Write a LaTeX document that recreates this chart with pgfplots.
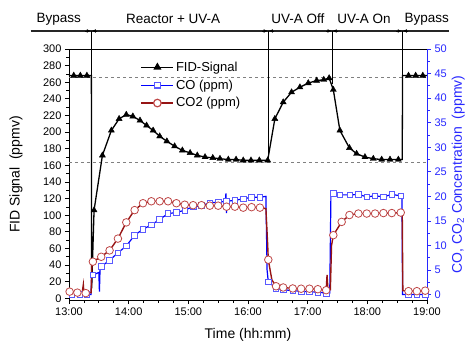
\documentclass[border=0pt]{standalone}
\usepackage{fontspec}
\setmainfont{Liberation Sans}
\usepackage{pgfplots}
\pgfplotsset{compat=1.18}
\usetikzlibrary{arrows.meta}
\definecolor{cob}{RGB}{0,0,255}
\definecolor{comark}{RGB}{90,90,255}
\definecolor{cor}{RGB}{150,20,20}
\definecolor{cormark}{RGB}{190,70,70}
\definecolor{rblue}{RGB}{40,40,255}
\begin{document}
\begin{tikzpicture}
\useasboundingbox (-69pt,-45pt) rectangle (404pt,300pt);
\begin{axis}[
 at={(0,0)}, anchor=south west,
 scale only axis, width=358pt, height=251pt,
 xmin=13, xmax=19, ymin=-2, ymax=300,
 xtick={13,...,19}, xticklabels={13:00,14:00,15:00,16:00,17:00,18:00,19:00},
 minor x tick num=3,
 ytick={0,20,...,300}, minor y tick num=1,
 xtick pos=left, ytick pos=left,
 tick align=outside,
 major tick length=4pt, minor tick length=2.5pt,
 tick style={black, line width=0.8pt},
 axis line style={line width=0.8pt},
 ticklabel style={font=\fontsize{11}{13}\selectfont},
 /pgf/number format/assume math mode=true,
 xlabel={Time (hh:mm)}, ylabel={FID Signal\ \ (ppmv)},
 label style={font=\fontsize{14}{16}\selectfont},
 xlabel style={at={(axis description cs:0.5,-0.139)},anchor=center},
 ylabel style={at={(axis description cs:-0.148,0.5)},anchor=center},
 clip=false,
]
% reference dashed lines
\draw[gray, line width=0.8pt, dash pattern=on 3pt off 3pt] (axis cs:13,266) -- (axis cs:19,266);
\draw[gray, line width=0.8pt, dash pattern=on 3pt off 3pt] (axis cs:13,164) -- (axis cs:19,164);
% top phase bar
\draw[line width=1.1pt, black!85] (axis cs:12.357,321.7) -- (axis cs:19.37,321.7);
\draw[line width=0.8pt] (axis cs:13.375,321.7) -- (axis cs:13.375,268);
\draw[line width=0.8pt] (axis cs:16.34,321.7) -- (axis cs:16.34,166);
\draw[line width=0.8pt] (axis cs:17.41,321.7) -- (axis cs:17.41,258);
\draw[line width=0.8pt] (axis cs:18.587,321.7) -- (axis cs:18.587,167);
\draw[-{Latex[length=4pt,width=3.5pt]}] (axis cs:13.275,321.7) -- (axis cs:13.365,321.7);
\draw[-{Latex[length=4pt,width=3.5pt]}] (axis cs:13.475,321.7) -- (axis cs:13.385,321.7);
\draw[-{Latex[length=4pt,width=3.5pt]}] (axis cs:16.24,321.7) -- (axis cs:16.33,321.7);
\draw[-{Latex[length=4pt,width=3.5pt]}] (axis cs:16.44,321.7) -- (axis cs:16.35,321.7);
\draw[-{Latex[length=4pt,width=3.5pt]}] (axis cs:17.31,321.7) -- (axis cs:17.40,321.7);
\draw[-{Latex[length=4pt,width=3.5pt]}] (axis cs:17.51,321.7) -- (axis cs:17.42,321.7);
\draw[-{Latex[length=4pt,width=3.5pt]}] (axis cs:18.487,321.7) -- (axis cs:18.577,321.7);
\draw[-{Latex[length=4pt,width=3.5pt]}] (axis cs:18.687,321.7) -- (axis cs:18.597,321.7);
\node[font=\fontsize{13.5}{15}\selectfont] at (axis cs:12.827,336) {Bypass};
\node[font=\fontsize{13.5}{15}\selectfont] at (axis cs:14.745,336) {Reactor + UV-A};
\node[font=\fontsize{13.5}{15}\selectfont] at (axis cs:16.834,336) {UV-A Off};
\node[font=\fontsize{13.5}{15}\selectfont] at (axis cs:17.945,336) {UV-A On};
\node[font=\fontsize{13.5}{15}\selectfont] at (axis cs:18.997,336) {Bypass};
% FID line
\addplot[black, line width=1.3pt, no marks] coordinates {
(13.00,268)(13.375,268)(13.38,12)(13.42,106)(13.56,172)(13.71,202)(13.84,216)(13.96,221)
(14.07,219)(14.19,214)(14.30,208)(14.41,202)(14.52,195)(14.64,189)(14.77,183)(14.90,178)
(15.03,175)(15.15,172)(15.28,170)(15.41,169)(15.53,168)(15.67,167)(15.80,167)(15.92,166)
(16.05,166)(16.19,166)(16.33,166)(16.45,216)(16.59,236)(16.73,248)(16.87,254)(17.01,259)
(17.15,262)(17.27,263)(17.36,265)(17.43,251)(17.54,202)(17.70,181)(17.82,174)(17.96,170)
(18.10,168)(18.24,167)(18.38,167)(18.52,167)(18.585,167)(18.59,268)(19.00,268)};
% FID markers
\addplot[only marks, black, mark=triangle*, mark size=3.5pt] coordinates {
(13.08,268)(13.19,268)(13.30,268)
(13.42,106)(13.56,172)(13.71,202)(13.84,216)(13.96,221)
(14.07,219)(14.19,214)(14.30,208)(14.41,202)(14.52,195)(14.64,189)(14.77,183)(14.90,178)
(15.03,175)(15.15,172)(15.28,170)(15.41,169)(15.53,168)(15.67,167)(15.80,167)(15.92,166)
(16.05,166)(16.19,166)(16.33,166)(16.45,216)(16.59,236)(16.73,248)(16.87,254)(17.01,259)
(17.15,262)(17.27,263)(17.36,265)(17.43,251)(17.54,202)(17.70,181)(17.82,174)(17.96,170)
(18.10,168)(18.24,167)(18.38,167)(18.52,167)
(18.69,268)(18.81,268)(18.93,268)};
\end{axis}

\begin{axis}[
 at={(0,0)}, anchor=south west,
 scale only axis, width=358pt, height=251pt,
 xmin=13, xmax=19, ymin=-1.1, ymax=50,
 axis x line=none, axis y line*=right,
 ytick={0,5,...,50}, minor y tick num=1,
 tick align=outside,
 major tick length=4pt, minor tick length=2.5pt,
 tick style={rblue, line width=0.8pt},
 y axis line style={rblue, line width=0.8pt},
 yticklabel style={rblue, font=\fontsize{11}{13}\selectfont},
 /pgf/number format/assume math mode=true,
 ylabel={CO, CO\textsubscript{2} Concentration\ \ (ppmv)},
 ylabel style={rblue, font=\fontsize{14}{16}\selectfont, at={(axis description cs:1.087,0.5)}, anchor=center},
 legend style={draw=none, fill=none, at={(axis description cs:0.2,0.958)}, anchor=north west,
   font=\fontsize{13}{15}\selectfont, row sep=3pt, inner sep=0pt},
 legend cell align=left,
 legend image code/.code={\draw[mark repeat=2,mark phase=2] plot coordinates {(0pt,0pt)(16pt,0pt)(32pt,0pt)};},
]
\addlegendimage{black, line width=1.2pt, mark=triangle*, mark size=3.5pt}
\addlegendentry{FID-Signal}
\addlegendimage{cob, line width=1.2pt, mark=square*, mark options={draw=comark, fill=white}, mark size=2.8pt}
\addlegendentry{CO (ppm)}
\addlegendimage{cor, line width=1.2pt, mark=*, mark options={draw=cormark, fill=white}, mark size=3.8pt}
\addlegendentry{CO2 (ppm)}
% CO line
\addplot[cob, line width=1.2pt, no marks, forget plot] coordinates {
(13.00,0.0)(13.37,0.0)(13.38,4.0)(13.40,4.0)(13.50,4.5)(13.51,0.6)(13.52,5.0)(13.54,5.7)
(13.68,7.0)(13.82,8.5)(13.96,9.9)(14.10,12.1)(14.24,13.3)(14.38,14.2)(14.52,15.3)(14.66,16.5)
(14.80,16.7)(14.94,17.2)(15.08,17.9)(15.22,18.1)(15.36,18.7)(15.50,18.8)(15.62,19.0)(15.63,20.6)(15.64,16.6)(15.65,19.0)
(15.78,19.2)(15.92,19.5)(16.06,19.8)(16.20,19.8)(16.30,20.0)(16.32,5.0)(16.34,2.6)(16.47,1.3)
(16.59,1.0)(16.75,0.8)(16.89,0.7)(17.03,0.6)(17.17,0.5)(17.31,0.3)(17.37,0.3)(17.39,20.6)
(17.43,20.6)(17.54,20.3)(17.71,20.3)(17.85,20.4)(17.99,19.9)(18.13,20.1)(18.27,19.9)(18.41,20.4)
(18.56,20.1)(18.58,20.0)(18.59,0.0)(19.00,0.0)};
\addplot[only marks, mark=square*, mark options={draw=comark, fill=white, line width=0.8pt}, mark size=2.8pt, forget plot] coordinates {
(13.05,0.0)(13.18,0.0)(13.30,0.0)
(13.40,4.0)(13.54,5.7)(13.68,7.0)(13.82,8.5)(13.96,9.9)(14.10,12.1)(14.24,13.3)(14.38,14.2)
(14.52,15.3)(14.66,16.5)(14.80,16.7)(14.94,17.2)(15.08,17.9)(15.22,18.1)(15.36,18.7)(15.50,18.8)
(15.64,19.0)(15.78,19.2)(15.92,19.5)(16.06,19.8)(16.20,19.8)(16.34,2.6)(16.47,1.3)
(16.59,1.0)(16.75,0.8)(16.89,0.7)(17.03,0.6)(17.17,0.5)(17.31,0.3)
(17.43,20.6)(17.54,20.3)(17.71,20.3)(17.85,20.4)(17.99,19.9)(18.13,20.1)(18.27,19.9)(18.41,20.4)(18.56,20.1)
(18.69,0.0)(18.83,0.0)(18.97,0.0)};
% CO2 line
\addplot[cor, line width=1.4pt, no marks, forget plot] coordinates {
(13.00,0.6)(13.13,0.4)(13.22,0.3)(13.24,2.0)(13.25,0.3)(13.28,0.3)(13.37,0.4)(13.385,6.5)
(13.40,6.7)(13.54,7.7)(13.68,9.0)(13.82,11.4)(13.96,14.7)(14.10,17.2)(14.24,18.6)(14.38,19.0)
(14.52,19.0)(14.66,19.0)(14.80,18.6)(14.94,18.3)(15.08,18.2)(15.22,18.2)(15.36,18.1)(15.50,18.1)
(15.64,17.9)(15.78,17.9)(15.92,17.7)(16.06,17.8)(16.20,17.7)(16.30,17.5)(16.33,10.0)(16.34,7.1)
(16.40,3.0)(16.47,1.7)(16.59,1.45)(16.75,1.25)(16.89,1.2)(17.03,1.2)(17.17,1.1)(17.31,0.9)
(17.325,4.0)(17.34,1.0)(17.38,1.0)(17.40,10.0)(17.43,12.1)(17.57,14.8)(17.70,16.2)(17.85,16.5)
(17.99,16.5)(18.13,16.5)(18.27,16.6)(18.41,16.6)(18.56,16.7)(18.585,16.7)(18.595,0.8)(18.69,0.7)
(18.83,0.7)(18.97,0.8)(19.00,0.8)};
\addplot[only marks, mark=*, mark options={draw=cormark, fill=white, line width=0.8pt}, mark size=3.8pt, forget plot] coordinates {
(13.01,0.6)(13.14,0.4)(13.28,0.3)
(13.40,6.7)(13.54,7.7)(13.68,9.0)(13.82,11.4)(13.96,14.7)(14.10,17.2)(14.24,18.6)(14.38,19.0)
(14.52,19.0)(14.66,19.0)(14.80,18.6)(14.94,18.3)(15.08,18.2)(15.22,18.2)(15.36,18.1)(15.50,18.1)
(15.64,17.9)(15.78,17.9)(15.92,17.7)(16.06,17.8)(16.20,17.7)(16.34,7.1)
(16.47,1.7)(16.59,1.45)(16.75,1.25)(16.89,1.2)(17.03,1.2)(17.17,1.1)(17.31,0.9)
(17.43,12.1)(17.57,14.8)(17.70,16.2)(17.85,16.5)(17.99,16.5)(18.13,16.5)(18.27,16.6)(18.41,16.6)(18.56,16.7)
(18.69,0.7)(18.83,0.7)(18.97,0.8)};
\end{axis}
\end{tikzpicture}
\end{document}
